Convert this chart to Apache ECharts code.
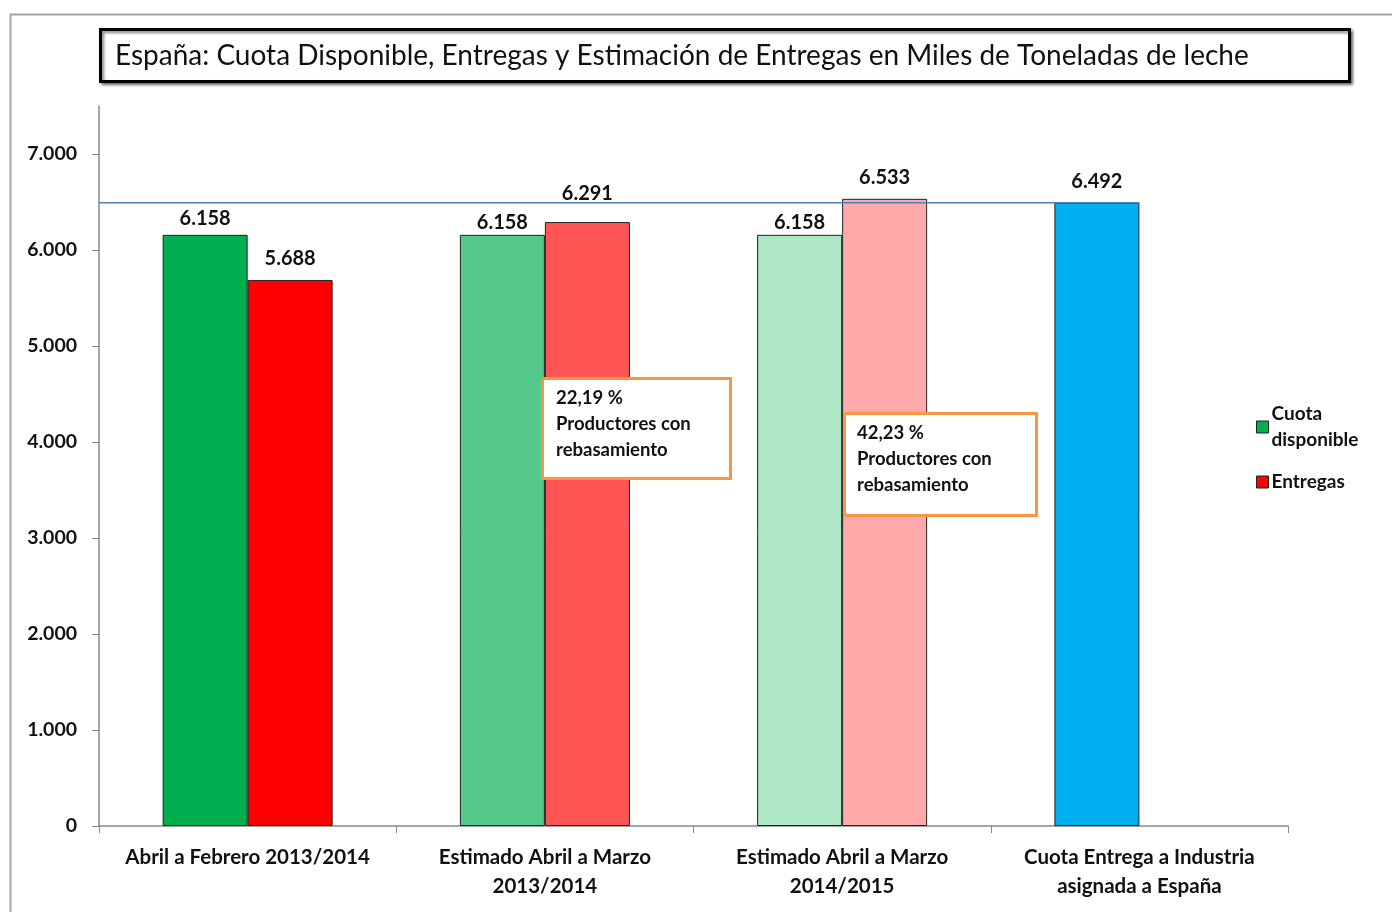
<!DOCTYPE html>
<html>
<head>
<meta charset="utf-8">
<script src="https://cdn.jsdelivr.net/npm/echarts@6/dist/echarts.min.js"></script>
<style>html,body{margin:0;padding:0;background:#fff}#c{width:1392px;height:912px}</style>
</head>
<body>
<div id="c"></div>
<script>
var categories = ['Abril a Febrero 2013/2014', 'Estimado Abril a Marzo\n2013/2014', 'Estimado Abril a Marzo\n2014/2015', 'Cuota Entrega a Industria\nasignada a España'];
var cuota = [6158, 6158, 6158, 6492];
var entregas = [5688, 6291, 6533, null];
var yTicks = [0, 1000, 2000, 3000, 4000, 5000, 6000, 7000];
var quotaLineValue = 6492;
var notes = ['22,19 %\nProductores con\nrebasamiento', '42,23 %\nProductores con\nrebasamiento'];
var titleText = 'España: Cuota Disponible, Entregas y Estimación de Entregas en Miles de Toneladas de leche';

// styling (not data)
var cuotaColors = ['#00B050', '#55C98A', '#AEE6C6', '#00B0F0'];
var entregasColors = ['#FF0000', '#FF5555', '#FFAAAA', '#FFAAAA'];
var cuotaLabelGap = [6, 2, 2, 11];
var entregasLabelGap = [11, 19, 11, 11];

var FONT = 'Lato';
function fmt(v) { return String(v).replace(/\B(?=(\d{3})+(?!\d))/g, '.'); }

var chart = echarts.init(document.getElementById('c'));
var labelStyle = { show: true, position: 'top', fontFamily: FONT, fontWeight: 'bold', fontSize: 20, color: '#111',
  formatter: function (p) { return p.value == null ? '' : fmt(p.value); } };

chart.setOption({
  backgroundColor: '#fff',
  animation: false,
  grid: { left: 99, right: 104, top: 106, bottom: 86, containLabel: false },
  legend: {
    data: ['Cuota disponible', 'Entregas'],
    orient: 'vertical', left: 1251, top: 396,
    icon: 'rect', itemWidth: 12, itemHeight: 12, itemGap: 16,
    formatter: function (n) { return n === 'Cuota disponible' ? 'Cuota\ndisponible' : n; },
    textStyle: { fontFamily: FONT, fontWeight: 'bold', fontSize: 19, color: '#111', lineHeight: 26, padding: [0, 0, 0, -2] },
    itemStyle: { borderColor: '#222', borderWidth: 1 }
  },
  xAxis: [{
    type: 'category', data: categories,
    axisLine: { lineStyle: { color: '#888', width: 1.5 } },
    axisTick: { show: true, length: 7, lineStyle: { color: '#888' } },
    axisLabel: { fontFamily: FONT, fontWeight: 'bold', fontSize: 20.5, color: '#111', lineHeight: 29, margin: 17, interval: 0 }
  }, {
    type: 'value', min: 0, max: categories.length, show: false
  }],
  yAxis: {
    type: 'value', min: 0, max: 7500,
    axisLine: { show: true, lineStyle: { color: '#888', width: 1.5 } },
    axisTick: { show: true, length: 7, customValues: yTicks, lineStyle: { color: '#888' } },
    axisLabel: { customValues: yTicks, formatter: function (v) { return fmt(v); }, fontFamily: FONT, fontWeight: 'bold', fontSize: 19.5, color: '#111', margin: 22 },
    splitLine: { show: false }
  },
  series: [{
    name: 'Cuota disponible', type: 'bar', barWidth: 85, barGap: '0%', z: 2,
    itemStyle: { color: '#00B050', borderColor: '#222', borderWidth: 1 },
    data: cuota.map(function (v, i) { return { value: v, itemStyle: { color: cuotaColors[i] }, label: { distance: cuotaLabelGap[i] } }; }),
    label: labelStyle
  }, {
    name: 'Entregas', type: 'bar', barWidth: 85, z: 2,
    itemStyle: { color: '#FF0000', borderColor: '#222', borderWidth: 1 },
    data: entregas.map(function (v, i) { return { value: v, itemStyle: { color: entregasColors[i] }, label: { distance: entregasLabelGap[i] } }; }),
    label: labelStyle
  }, {
    name: 'Cuota asignada', type: 'line', xAxisIndex: 1, z: 3, symbol: 'none', silent: true,
    lineStyle: { color: '#4F81BD', width: 1.3 },
    data: [[0, quotaLineValue], [categories.length - 0.5, quotaLineValue]]
  }],
  graphic: [
    { type: 'rect', left: 8, top: 12, shape: { width: 1400, height: 910 }, style: { fill: 'none', stroke: '#A6A6A6', lineWidth: 2 }, z: -10 },
    { type: 'rect', left: 99, top: 28, shape: { width: 1249, height: 52 }, style: { fill: '#fff', stroke: '#000', lineWidth: 3, shadowBlur: 3, shadowOffsetX: 2, shadowOffsetY: 2, shadowColor: 'rgba(0,0,0,0.5)' }, z: 10 },
    { type: 'text', left: 115, top: 42, style: { text: titleText, fontFamily: FONT, fontSize: 28, fill: '#111' }, z: 11 },
    { type: 'rect', left: 541, top: 377, shape: { width: 188, height: 100 }, style: { fill: '#fff', stroke: '#F79646', lineWidth: 3 }, z: 10 },
    { type: 'text', left: 556, top: 385, style: { text: notes[0], fontFamily: FONT, fontWeight: 'bold', fontSize: 18.5, lineHeight: 26, fill: '#111' }, z: 11 },
    { type: 'rect', left: 843, top: 412, shape: { width: 192, height: 102 }, style: { fill: '#fff', stroke: '#F79646', lineWidth: 3 }, z: 10 },
    { type: 'text', left: 857, top: 420, style: { text: notes[1], fontFamily: FONT, fontWeight: 'bold', fontSize: 18.5, lineHeight: 26, fill: '#111' }, z: 11 }
  ]
});
</script>
</body>
</html>
